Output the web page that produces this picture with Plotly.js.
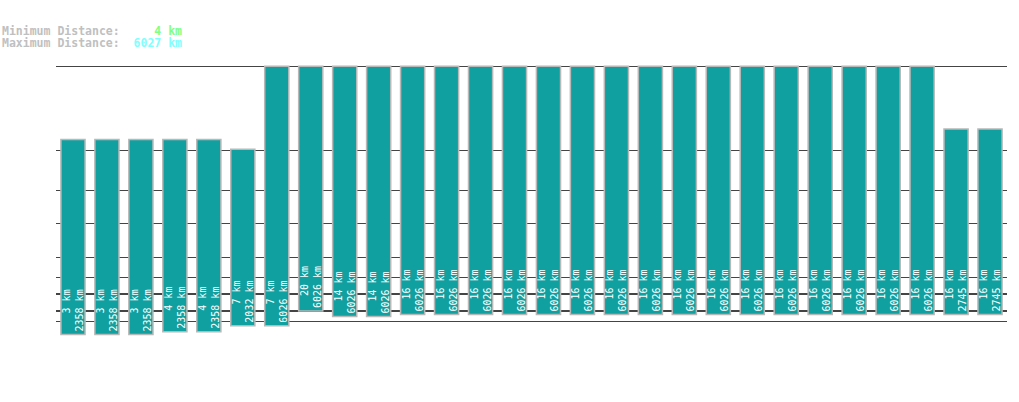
<!DOCTYPE html>
<html>
<head>
<meta charset="utf-8">
<script src="https://cdn.plot.ly/plotly-3.0.1.min.js"></script>
<style>
  html, body { margin: 0; padding: 0; background: #fff; }
</style>
</head>
<body>
<div id="dist"></div>
<script>
const plot_dom_id = "dist";

// per-bar distances in km (bottom = min, top = max)
var minKm = [3, 3, 3, 4, 4, 7, 7, 20, 14, 14,
  16, 16, 16, 16, 16, 16, 16, 16, 16, 16, 16, 16, 16, 16, 16, 16,
  16, 16];
var maxKm = [2358, 2358, 2358, 2358, 2358, 2032, 6026, 6026, 6026, 6026,
  6026, 6026, 6026, 6026, 6026, 6026, 6026, 6026, 6026, 6026, 6026, 6026, 6026, 6026, 6026, 6026,
  2745, 2745];
var gridKm = [10, 20, 50, 100, 200, 500, 1000, 2000, 6027];
var minDistance = 4;
var maxDistance = 6027;

// the chart uses a power scale, km^0.3
var POW = 0.3;
function sc(d) { return Math.pow(d, POW); }

function pad(s, n) {
  while (s.length < n) s = "\u00a0" + s;
  return s;
}

function init() {
  var cats = minKm.map(function (d, i) { return i; });
  var base = minKm.map(sc);
  var len = maxKm.map(function (d, i) { return sc(d) - sc(minKm[i]); });
  var labels = minKm.map(function (d, i) {
    var a = d + " km", b = maxKm[i] + " km";
    var n = Math.max(a.length, b.length);
    return pad(a, n) + "<br>" + pad(b, n);
  });

  var data = [{
    type: "bar",
    x: cats,
    y: len,
    base: base,
    width: 0.71,
    marker: { color: "#11a0a0", line: { color: "#b8b8b8", width: 1.5 } },
    text: labels,
    textposition: "inside",
    insidetextanchor: "start",
    textangle: -90,
    constraintext: "none",
    textfont: { family: "DejaVu Sans Mono", size: 10, color: "#ffffff" },
    hoverinfo: "none"
  }];

  var tMax = sc(maxDistance);
  var layout = {
    width: 1019,
    height: 402,
    margin: { l: 56, r: 12, t: 64, b: 37 },
    paper_bgcolor: "#ffffff",
    plot_bgcolor: "#ffffff",
    showlegend: false,
    xaxis: {
      range: [-0.5, minKm.length - 0.5],
      showticklabels: false,
      showgrid: false,
      zeroline: false,
      ticks: ""
    },
    yaxis: {
      range: [0, tMax + 0.1],
      tickmode: "array",
      tickvals: gridKm.map(sc),
      showticklabels: false,
      showgrid: true,
      gridcolor: "#444444",
      gridwidth: 1.2,
      zeroline: false,
      ticks: ""
    },
    annotations: [
      {
        xref: "paper", yref: "paper", x: -56 / 951, y: (365 - 31) / 301,
        xanchor: "left", yanchor: "middle", showarrow: false, align: "left",
        font: { family: "DejaVu Sans Mono", size: 11.5, color: "#c0c0c0", weight: "bold" },
        text: "Minimum Distance:<span style='color:#80ff80'>" + pad(minDistance + " km", 9) + "</span>"
      },
      {
        xref: "paper", yref: "paper", x: -56 / 951, y: (365 - 43) / 301,
        xanchor: "left", yanchor: "middle", showarrow: false, align: "left",
        font: { family: "DejaVu Sans Mono", size: 11.5, color: "#c0c0c0", weight: "bold" },
        text: "Maximum Distance:<span style='color:#80ffff'>" + pad(maxDistance + " km", 9) + "</span>"
      }
    ]
  };

  Plotly.newPlot(plot_dom_id, data, layout, { staticPlot: true });
}

init();
</script>
</body>
</html>
